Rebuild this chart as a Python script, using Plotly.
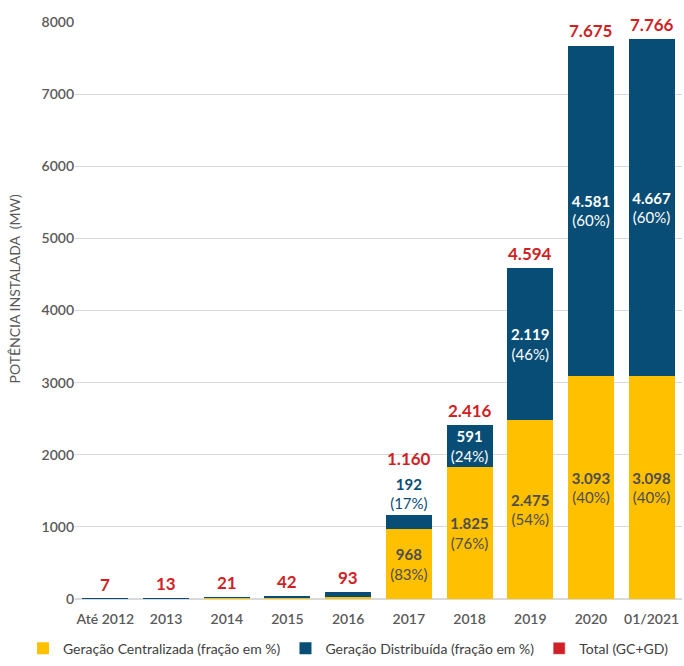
import plotly.graph_objects as go

categories = ["Até 2012", "2013", "2014", "2015", "2016", "2017", "2018", "2019", "2020", "01/2021"]
gc_values = [5, 8, 15, 21, 24, 968, 1825, 2475, 3093, 3098]
gd_values = [2, 5, 6, 21, 69, 192, 591, 2119, 4581, 4667]
gc_pct = [None, None, None, None, None, 83, 76, 54, 40, 40]
gd_pct = [None, None, None, None, None, 17, 24, 46, 60, 60]
totals = [7, 13, 21, 42, 93, 1160, 2416, 4594, 7675, 7766]
y_ticks = [0, 1000, 2000, 3000, 4000, 5000, 6000, 7000, 8000]

YELLOW = "#FFC000"
BLUE = "#074D75"
RED = "#D01F25"
GRAY = "#595959"
FONT = "Lato"


def fmt(v):
    return f"{v:,}".replace(",", ".")


def label(v, p):
    if p is None:
        return ""
    return f"<b>{fmt(v)}</b><br>({p}%)"


gc_text = [label(v, p) for v, p in zip(gc_values, gc_pct)]
gd_text = [label(v, p) for v, p in zip(gd_values, gd_pct)]
gd_pos = ["none" if p is None else ("outside" if v < 300 else "inside") for v, p in zip(gd_values, gd_pct)]
gc_pos = ["none" if p is None else "inside" for p in gc_pct]

fig = go.Figure()
fig.add_trace(go.Bar(
    x=categories, y=gc_values, name="Geração Centralizada (fração em %)",
    marker=dict(color=YELLOW, line=dict(width=0)),
    text=gc_text, textposition=gc_pos, insidetextanchor="middle",
    textfont=dict(family=FONT, size=15, color="#4D4D4D"), textangle=0,
    hoverinfo="skip",
))
fig.add_trace(go.Bar(
    x=categories, y=gd_values, name="Geração Distribuída (fração em %)",
    marker=dict(color=BLUE, line=dict(width=0)),
    text=gd_text, textposition=gd_pos, insidetextanchor="middle",
    insidetextfont=dict(family=FONT, size=15, color="white"),
    outsidetextfont=dict(family=FONT, size=15, color=BLUE), textangle=0,
    cliponaxis=False, hoverinfo="skip",
))
fig.add_trace(go.Bar(
    x=[categories[0]], y=[None], name="Total (GC+GD)",
    marker=dict(color=RED), hoverinfo="skip",
))

for i, (t, g) in enumerate(zip(totals, gd_values)):
    fig.add_annotation(
        x=i, y=t, text=f"<b>{fmt(t)}</b>", showarrow=False,
        yanchor="bottom", yshift=44 if g < 300 and t > 1000 else 2,
        font=dict(family=FONT, size=17, color=RED),
    )

fig.add_annotation(
    xref="paper", yref="paper", x=-0.099, y=0.538,
    text="POTÊNCIA INSTALADA  (MW)", textangle=-90, showarrow=False,
    xanchor="center", yanchor="middle",
    font=dict(family=FONT, size=14, color=GRAY),
)

fig.update_layout(
    barmode="stack", bargap=0.243,
    width=684, height=666,
    margin=dict(l=75, r=2, t=22, b=66),
    paper_bgcolor="white", plot_bgcolor="white",
    uniformtext=dict(mode="show", minsize=15),
    font=dict(family=FONT, color=GRAY),
    showlegend=True,
    legend=dict(
        orientation="h", x=-0.0857, xanchor="left",
        y=-0.112, yanchor="bottom",
        font=dict(family=FONT, size=14, color="#404040"),
        itemclick=False, traceorder="normal",
    ),
)
fig.update_yaxes(
    range=[0, 8000], tickvals=y_ticks, ticktext=[str(v) for v in y_ticks],
    showgrid=True, gridcolor="#D9D9D9", gridwidth=1,
    zeroline=True, zerolinecolor="#D9D9D9",
    tickfont=dict(family=FONT, size=14, color=GRAY, weight=600),
    ticklabelstandoff=0,
)
fig.update_xaxes(
    type="category", categoryorder="array", categoryarray=categories,
    range=[-0.5, len(categories) - 0.5],
    showgrid=False, showline=False,
    tickfont=dict(family=FONT, size=14, color=GRAY, weight=600),
    ticklabelstandoff=10,
)

fig.write_html("out.html")
